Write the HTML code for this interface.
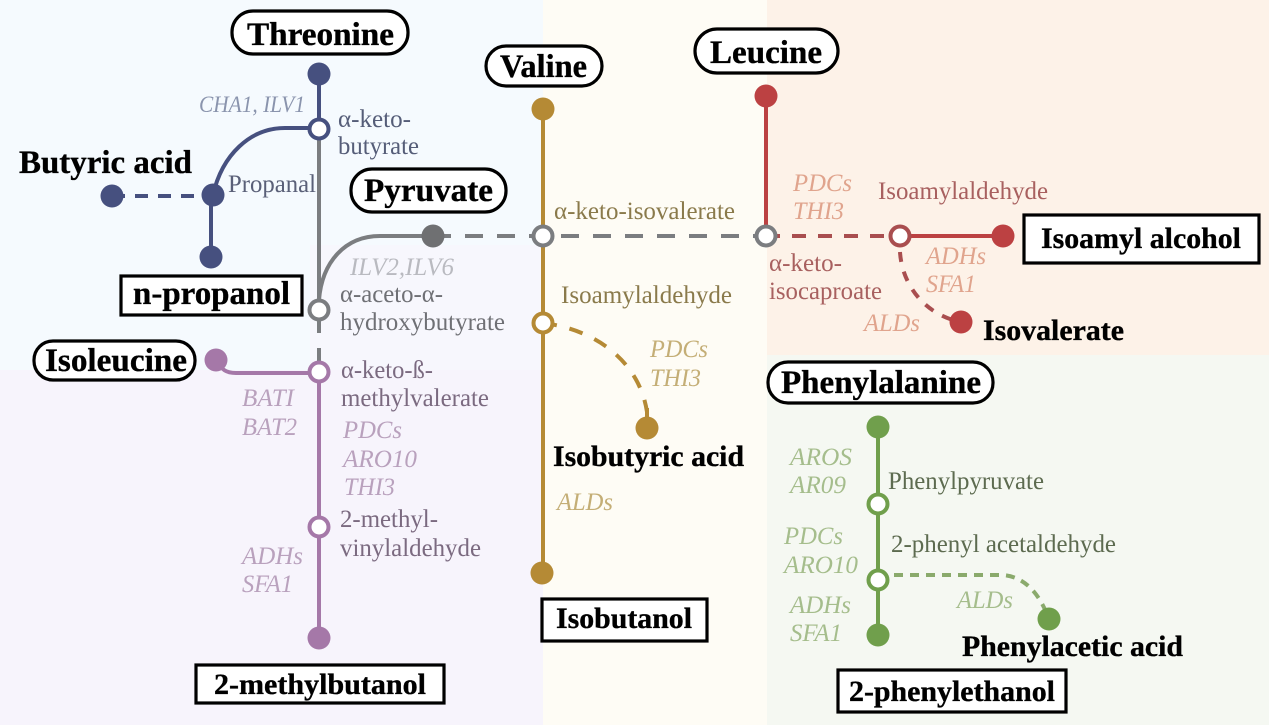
<!DOCTYPE html>
<html><head><meta charset="utf-8"><title>Amino acid pathways to fusel alcohols</title>
<style>
html,body{margin:0;padding:0;background:#fff}
svg{display:block;filter:blur(0.35px)}
text{font-family:"Liberation Serif",serif}
.b{font-weight:bold;font-size:33px;fill:#000;stroke:#000;stroke-width:.35}
.s{font-size:30px}
.n{font-size:25px}
.i{font-size:25px;font-style:italic}
</style></head><body>
<svg width="1269" height="725" viewBox="0 0 1269 725" xmlns="http://www.w3.org/2000/svg">
<rect width="1269" height="725" fill="#f5fafe"/>
<polygon points="310,245 543,245 543,370 310,370" fill="#f7f7fd"/>
<polygon points="0,370 543,370 543,725 0,725" fill="#f7f4fc"/>
<rect x="543" width="224" height="725" fill="#fefcf5"/>
<rect x="767" width="502" height="355" fill="#fdf2e8"/>
<rect x="767" y="355" width="502" height="370" fill="#f5f8f2"/>

<!-- blue -->
<g stroke="#46507f" fill="none" stroke-width="4">
<path d="M319 74V129"/><path d="M310 128H285C250 128 222 155 213 195"/><path d="M211 195V257"/>
<path d="M112 196H213" stroke-dasharray="13 10"/></g>
<g fill="#46507f"><circle cx="319" cy="74" r="11.5"/><circle cx="213" cy="195" r="11.5"/><circle cx="112" cy="196" r="11.5"/><circle cx="211" cy="257" r="11.5"/></g>
<!-- gray -->
<g stroke="#7b7d80" fill="none" stroke-width="4">
<path d="M319 129V333"/><path d="M433 236H380C345 236 322 262 319 300"/>
<path d="M433 236H767" stroke-dasharray="18 14"/><path d="M319 348V362"/></g>
<circle cx="433" cy="236" r="11.5" fill="#6f7072"/>
<!-- purple -->
<g stroke="#a578a8" fill="none" stroke-width="4"><path d="M216 360C222 370 226 373 236 373H319"/><path d="M319 372V638"/></g>
<g fill="#a578a8"><circle cx="216" cy="360" r="11.5"/><circle cx="319" cy="638" r="11.5"/></g>
<!-- gold -->
<g stroke="#b58a35" fill="none" stroke-width="4"><path d="M543 109V573"/>
<path d="M543 323C600 330 640 365 647 412" stroke-dasharray="14 13"/><path d="M647 408V428"/></g>
<g fill="#b58a35"><circle cx="543" cy="109" r="11.5"/><circle cx="542" cy="573" r="11.5"/><circle cx="647" cy="428" r="11.5"/></g>
<!-- red -->
<g stroke="#bc4142" fill="none" stroke-width="4"><path d="M766 96V236"/><path d="M900 236H1003"/></g>
<path d="M766 236H900" stroke="#a94e4f" fill="none" stroke-width="4" stroke-dasharray="14 12"/>
<path d="M900 252C902 285 925 315 961 322" stroke="#a94e4f" fill="none" stroke-width="4" stroke-dasharray="10 10"/>
<g fill="#bc4142"><circle cx="766" cy="96" r="11.5"/><circle cx="1003" cy="236" r="11.5"/><circle cx="961" cy="322" r="11.5"/></g>
<!-- green -->
<path d="M878 427V635" stroke="#709f4c" fill="none" stroke-width="4"/>
<path d="M878 575H1000C1025 575 1040 595 1049 619" stroke="#8aaa6c" fill="none" stroke-width="4" stroke-dasharray="9 7"/>
<g fill="#709f4c"><circle cx="878" cy="427" r="11.5"/><circle cx="878" cy="635" r="11.5"/><circle cx="1049" cy="619" r="11.5"/></g>
<!-- hollow -->
<g fill="#fff" stroke-width="4">
<circle cx="319" cy="129" r="9.5" stroke="#46507f"/><circle cx="319" cy="310" r="9.5" stroke="#7b7d80"/>
<circle cx="319" cy="372" r="9.5" stroke="#a578a8"/><circle cx="319" cy="527" r="9.5" stroke="#a578a8"/>
<circle cx="543" cy="236" r="9.5" stroke="#7b7d80"/><circle cx="543" cy="323" r="9.5" stroke="#b58a35"/>
<circle cx="766" cy="236" r="9.5" stroke="#7b7d80"/><circle cx="900" cy="236" r="9.5" stroke="#a94e4f"/>
<circle cx="878" cy="504" r="9.5" stroke="#709f4c"/><circle cx="878" cy="580" r="9.5" stroke="#709f4c"/>
</g>
<!-- boxes -->
<g fill="#fff" stroke="#000" stroke-width="3.2">
<rect x="232" y="11" width="176" height="43" rx="21"/>
<rect x="486" y="46" width="116" height="40" rx="20"/>
<rect x="695" y="29" width="143" height="44" rx="22"/>
<rect x="351" y="169" width="155" height="43" rx="21"/>
<rect x="34" y="341" width="161" height="39" rx="19"/>
<rect x="768" y="362" width="225" height="41" rx="20"/>
<rect x="121" y="276" width="181" height="39"/>
<rect x="196" y="665" width="248" height="38"/>
<rect x="542" y="599" width="165" height="42"/>
<rect x="1024" y="215" width="235" height="48"/>
<rect x="838" y="670" width="228" height="42"/>
</g>
<!-- bold labels -->
<g>
<text class="b" x="247" y="45" textLength="147" lengthAdjust="spacingAndGlyphs">Threonine</text>
<text class="b" x="500" y="77" textLength="87" lengthAdjust="spacingAndGlyphs">Valine</text>
<text class="b" x="710" y="63" textLength="112" lengthAdjust="spacingAndGlyphs">Leucine</text>
<text class="b" x="364" y="201" textLength="129" lengthAdjust="spacingAndGlyphs">Pyruvate</text>
<text class="b" x="19" y="173" textLength="173" lengthAdjust="spacingAndGlyphs">Butyric acid</text>
<text class="b" x="133" y="304" textLength="157" lengthAdjust="spacingAndGlyphs">n-propanol</text>
<text class="b" x="45" y="371" textLength="142" lengthAdjust="spacingAndGlyphs">Isoleucine</text>
<text class="b s" x="214" y="694" textLength="212" lengthAdjust="spacingAndGlyphs">2-methylbutanol</text>
<text class="b s" x="556" y="628" textLength="136" lengthAdjust="spacingAndGlyphs">Isobutanol</text>
<text class="b s" x="1041" y="248" textLength="200" lengthAdjust="spacingAndGlyphs">Isoamyl alcohol</text>
<text class="b s" x="983" y="340" textLength="141" lengthAdjust="spacingAndGlyphs">Isovalerate</text>
<text class="b" x="781" y="393" textLength="200" lengthAdjust="spacingAndGlyphs">Phenylalanine</text>
<text class="b s" x="553" y="466" textLength="191" lengthAdjust="spacingAndGlyphs">Isobutyric acid</text>
<text class="b s" x="962" y="656" textLength="221" lengthAdjust="spacingAndGlyphs">Phenylacetic acid</text>
<text class="b s" x="849" y="701" textLength="206" lengthAdjust="spacingAndGlyphs">2-phenylethanol</text>
</g>
<!-- metabolites -->
<g>
<text class="n" fill="#555d78" x="338" y="127" textLength="73" lengthAdjust="spacingAndGlyphs">α-keto-</text>
<text class="n" fill="#555d78" x="338" y="154" textLength="81" lengthAdjust="spacingAndGlyphs">butyrate</text>
<text class="n" fill="#5a6078" x="228" y="192" textLength="88" lengthAdjust="spacingAndGlyphs">Propanal</text>
<text class="n" fill="#6f7075" x="340" y="302" textLength="103" lengthAdjust="spacingAndGlyphs">α-aceto-α-</text>
<text class="n" fill="#6f7075" x="340" y="330" textLength="165" lengthAdjust="spacingAndGlyphs">hydroxybutyrate</text>
<text class="n" fill="#7b6a80" x="341" y="378" textLength="92" lengthAdjust="spacingAndGlyphs">α-keto-ß-</text>
<text class="n" fill="#7b6a80" x="341" y="406" textLength="148" lengthAdjust="spacingAndGlyphs">methylvalerate</text>
<text class="n" fill="#7b6a80" x="340" y="527" textLength="98" lengthAdjust="spacingAndGlyphs">2-methyl-</text>
<text class="n" fill="#7b6a80" x="340" y="556" textLength="141" lengthAdjust="spacingAndGlyphs">vinylaldehyde</text>
<text class="n" fill="#8a7a4b" x="554" y="219" textLength="181" lengthAdjust="spacingAndGlyphs">α-keto-isovalerate</text>
<text class="n" fill="#8a7a4b" x="561" y="303" textLength="171" lengthAdjust="spacingAndGlyphs">Isoamylaldehyde</text>
<text class="n" fill="#a8605f" x="878" y="199" textLength="170" lengthAdjust="spacingAndGlyphs">Isoamylaldehyde</text>
<text class="n" fill="#a8605f" x="769" y="271" textLength="73" lengthAdjust="spacingAndGlyphs">α-keto-</text>
<text class="n" fill="#a8605f" x="769" y="299" textLength="113" lengthAdjust="spacingAndGlyphs">isocaproate</text>
<text class="n" fill="#5d6b50" x="888" y="489" textLength="156" lengthAdjust="spacingAndGlyphs">Phenylpyruvate</text>
<text class="n" fill="#5d6b50" x="891" y="552" textLength="225" lengthAdjust="spacingAndGlyphs">2-phenyl acetaldehyde</text>
</g>
<!-- enzymes -->
<g>
<text class="i" fill="#8a94ad" x="199" y="112" textLength="106" lengthAdjust="spacingAndGlyphs" style="font-size:23px">CHA1, ILV1</text>
<text class="i" fill="#b9bac0" x="350" y="275" textLength="104" lengthAdjust="spacingAndGlyphs">ILV2,ILV6</text>
<text class="i" fill="#b9a1bd" x="242" y="406" textLength="52" lengthAdjust="spacingAndGlyphs">BATI</text>
<text class="i" fill="#b9a1bd" x="242" y="435" textLength="55" lengthAdjust="spacingAndGlyphs">BAT2</text>
<text class="i" fill="#b9a1bd" x="343" y="438" textLength="59" lengthAdjust="spacingAndGlyphs">PDCs</text>
<text class="i" fill="#b9a1bd" x="343" y="467" textLength="74" lengthAdjust="spacingAndGlyphs">ARO10</text>
<text class="i" fill="#b9a1bd" x="344" y="495" textLength="51" lengthAdjust="spacingAndGlyphs">THI3</text>
<text class="i" fill="#b9a1bd" x="242" y="564" textLength="61" lengthAdjust="spacingAndGlyphs">ADHs</text>
<text class="i" fill="#b9a1bd" x="242" y="592" textLength="51" lengthAdjust="spacingAndGlyphs">SFA1</text>
<text class="i" fill="#c4ae76" x="650" y="357" textLength="58" lengthAdjust="spacingAndGlyphs">PDCs</text>
<text class="i" fill="#c4ae76" x="650" y="386" textLength="51" lengthAdjust="spacingAndGlyphs">THI3</text>
<text class="i" fill="#c4ae76" x="557" y="510" textLength="56" lengthAdjust="spacingAndGlyphs">ALDs</text>
<text class="i" fill="#e0a48d" x="793" y="191" textLength="59" lengthAdjust="spacingAndGlyphs">PDCs</text>
<text class="i" fill="#e0a48d" x="793" y="219" textLength="51" lengthAdjust="spacingAndGlyphs">THI3</text>
<text class="i" fill="#e0a48d" x="926" y="264" textLength="60" lengthAdjust="spacingAndGlyphs">ADHs</text>
<text class="i" fill="#e0a48d" x="926" y="292" textLength="50" lengthAdjust="spacingAndGlyphs">SFA1</text>
<text class="i" fill="#e0a48d" x="864" y="331" textLength="56" lengthAdjust="spacingAndGlyphs">ALDs</text>
<text class="i" fill="#a5bd8c" x="790" y="465" textLength="62" lengthAdjust="spacingAndGlyphs">AROS</text>
<text class="i" fill="#a5bd8c" x="790" y="493" textLength="56" lengthAdjust="spacingAndGlyphs">AR09</text>
<text class="i" fill="#a5bd8c" x="784" y="544" textLength="59" lengthAdjust="spacingAndGlyphs">PDCs</text>
<text class="i" fill="#a5bd8c" x="784" y="573" textLength="74" lengthAdjust="spacingAndGlyphs">ARO10</text>
<text class="i" fill="#a5bd8c" x="790" y="613" textLength="61" lengthAdjust="spacingAndGlyphs">ADHs</text>
<text class="i" fill="#a5bd8c" x="790" y="641" textLength="52" lengthAdjust="spacingAndGlyphs">SFA1</text>
<text class="i" fill="#a5bd8c" x="957" y="608" textLength="56" lengthAdjust="spacingAndGlyphs">ALDs</text>
</g>
</svg>
</body></html>
